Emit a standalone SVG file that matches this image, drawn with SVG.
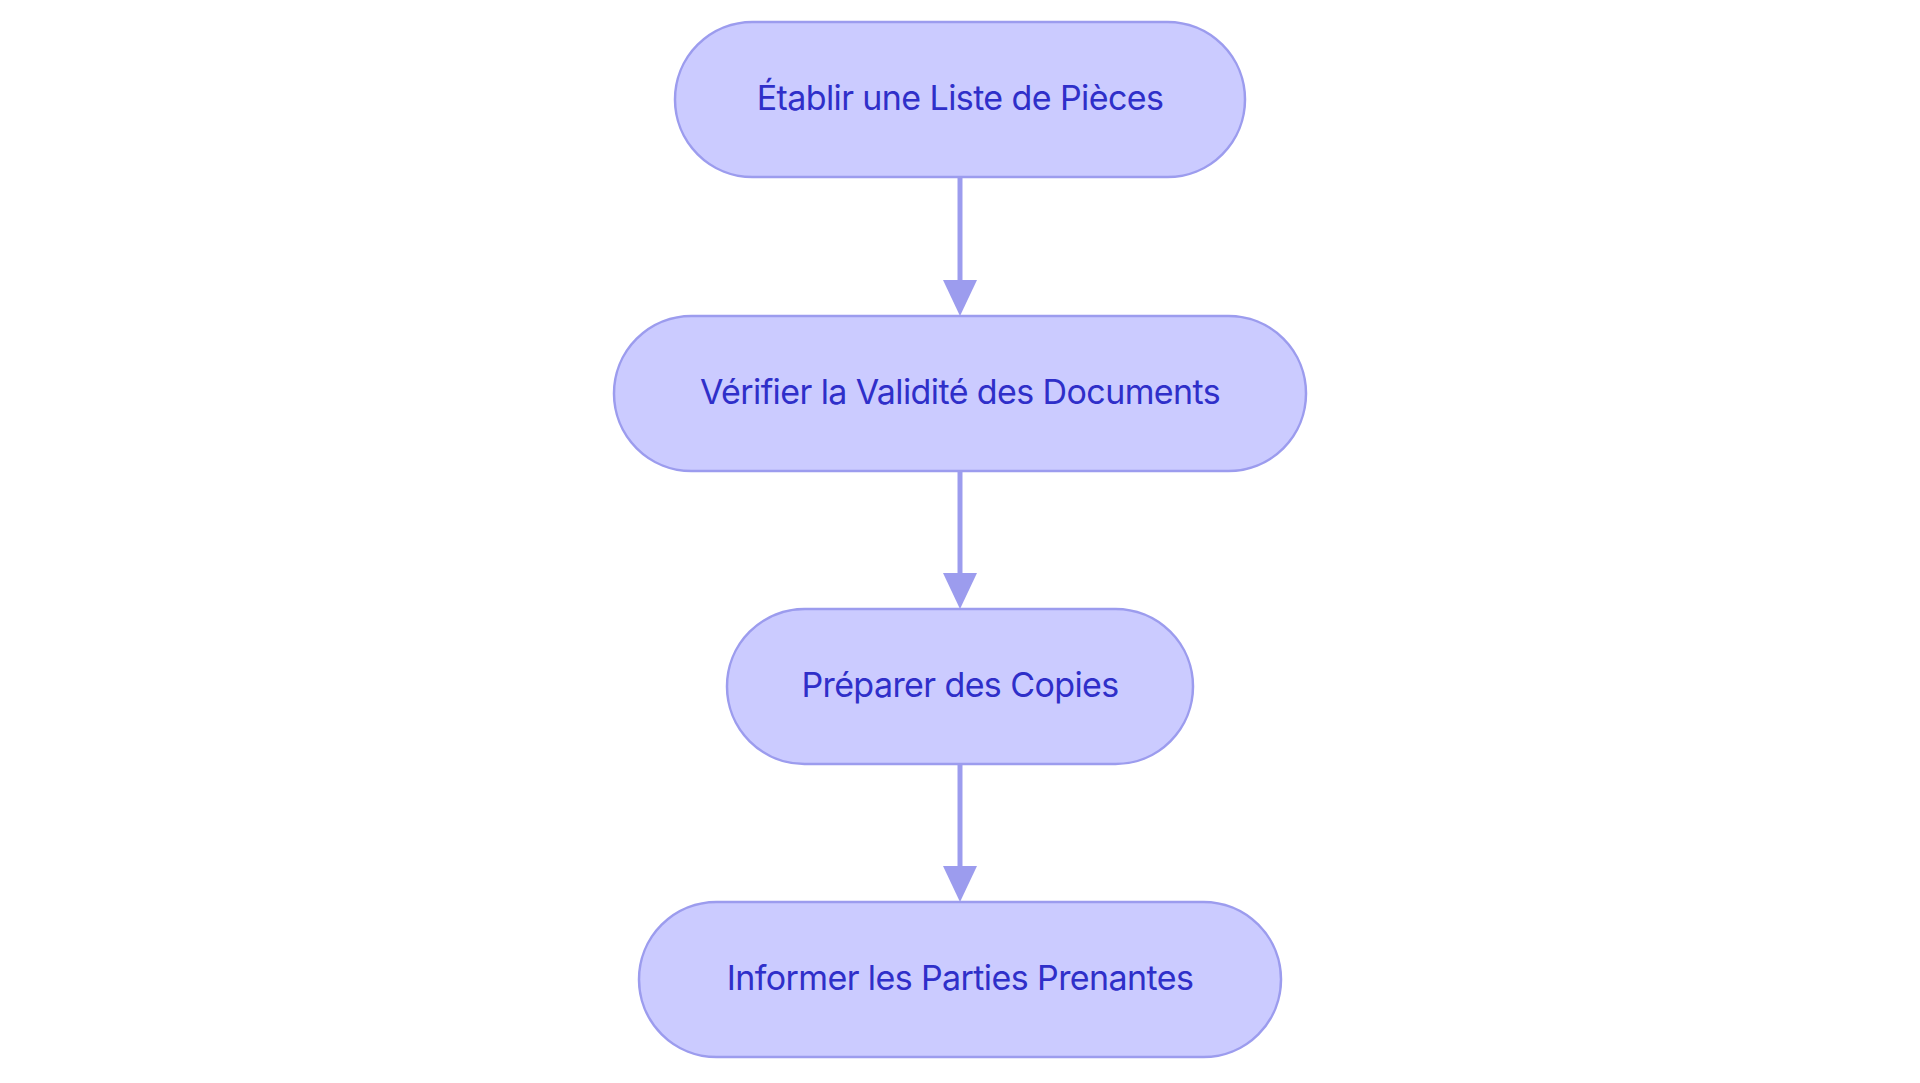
<svg xmlns="http://www.w3.org/2000/svg" width="1920" height="1083" viewBox="0 0 1920 1083">
<style>
.n rect{fill:#CBCBFF;stroke:#9C9CEE;stroke-width:2.5}
.n text{font-family:Inter,"Liberation Sans",sans-serif;font-size:34px;letter-spacing:-0.6px;fill:#2F2FC9;text-anchor:middle;dominant-baseline:central}
.c line{stroke:#9C9CEE;stroke-width:5}
.c path{fill:#9C9CEE}
</style>
<rect width="1920" height="1083" fill="#fff"/>
<g class="c">
<line x1="960" y1="178" x2="960" y2="286"/><path d="M943 280L977 280L960 316Z"/>
<line x1="960" y1="470" x2="960" y2="579"/><path d="M943 573L977 573L960 609Z"/>
<line x1="960" y1="764" x2="960" y2="872"/><path d="M943 866L977 866L960 902Z"/>
</g>
<g id="n1" class="n"><rect x="675" y="22" width="570" height="155" rx="77.5"/><text x="960" y="97">Établir une Liste de Pièces</text></g>
<g id="n2" class="n"><rect x="614" y="316" width="692" height="155" rx="77.5"/><text x="960" y="391">Vérifier la Validité des Documents</text></g>
<g id="n3" class="n"><rect x="727" y="609" width="466" height="155" rx="77.5"/><text x="960" y="684">Préparer des Copies</text></g>
<g id="n4" class="n"><rect x="639" y="902" width="642" height="155" rx="77.5"/><text x="960" y="977">Informer les Parties Prenantes</text></g>
</svg>
